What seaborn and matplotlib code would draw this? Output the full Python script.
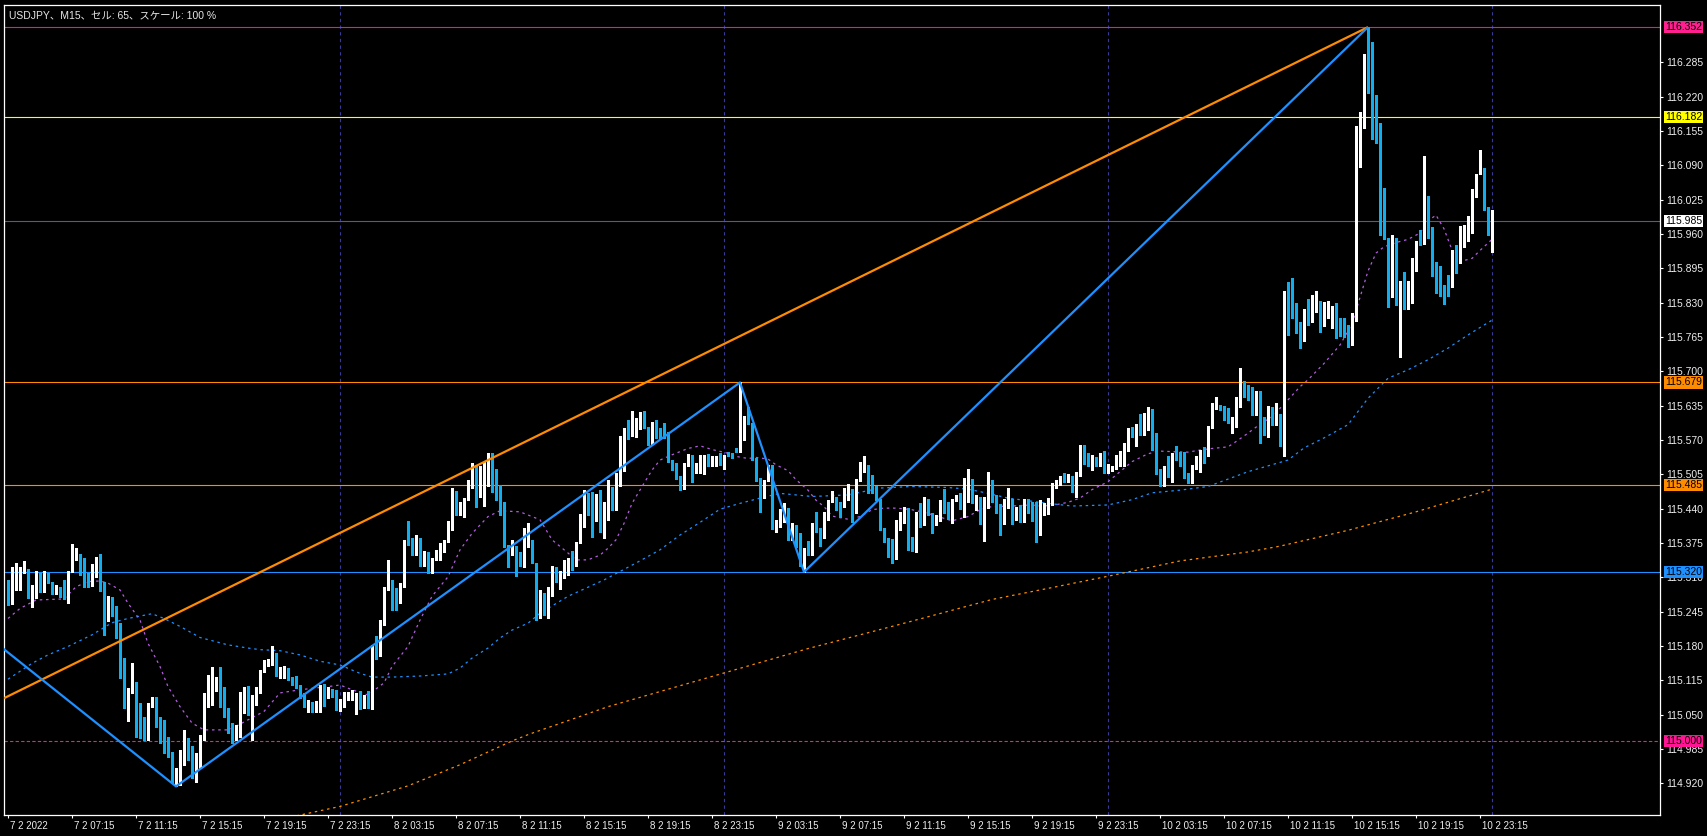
import numpy as np
import matplotlib
matplotlib.use("Agg")
import matplotlib.pyplot as plt
import matplotlib.transforms as mtransforms
import seaborn as sns

# ---------------- data (USDJPY M15, bar 0 = 7 Feb 03:15) ----------------
open_prices = [
    115.275, 115.260, 115.290, 115.294, 115.322, 115.324, 115.272, 115.294, 115.318, 115.289,
    115.314, 115.295, 115.280, 115.286, 115.278, 115.271, 115.320, 115.347, 115.354, 115.346,
    115.299, 115.294, 115.332, 115.344, 115.300, 115.228, 115.272, 115.256, 115.213, 115.119,
    115.062, 115.097, 115.111, 115.030, 115.029, 115.020, 115.070, 115.070, 115.032, 115.018,
    115.005, 114.970, 114.928, 114.948, 114.977, 114.999, 114.979, 114.955, 114.952, 115.008,
    115.078, 115.094, 115.100, 115.114, 115.078, 115.062, 115.022, 115.015, 115.031, 115.053,
    115.098, 115.049, 115.071, 115.097, 115.134, 115.144, 115.146, 115.165, 115.128, 115.135,
    115.138, 115.119, 115.120, 115.103, 115.084, 115.070, 115.073, 115.056, 115.056, 115.108,
    115.086, 115.099, 115.087, 115.058, 115.065, 115.081, 115.089, 115.088, 115.089, 115.064,
    115.075, 115.062, 115.195, 115.179, 115.222, 115.289, 115.303, 115.287, 115.285, 115.294,
    115.380, 115.378, 115.354, 115.384, 115.333, 115.357, 115.321, 115.345, 115.358, 115.359,
    115.378, 115.402, 115.474, 115.431, 115.434, 115.458, 115.485, 115.521, 115.464, 115.501,
    115.520, 115.529, 115.501, 115.483, 115.430, 115.369, 115.356, 115.369, 115.357, 115.332,
    115.373, 115.381, 115.337, 115.245, 115.256, 115.248, 115.292, 115.322, 115.302, 115.310,
    115.340, 115.342, 115.332, 115.375, 115.428, 115.465, 115.455, 115.422, 115.458, 115.427,
    115.434, 115.474, 115.468, 115.485, 115.542, 115.593, 115.583, 115.600, 115.611, 115.624,
    115.594, 115.564, 115.607, 115.590, 115.600, 115.584, 115.531, 115.526, 115.499, 115.481,
    115.523, 115.540, 115.518, 115.523, 115.523, 115.544, 115.523, 115.525, 115.542, 115.518,
    115.542, 115.542, 115.551, 115.550, 115.581, 115.615, 115.602, 115.535, 115.496, 115.462,
    115.494, 115.523, 115.401, 115.416, 115.436, 115.439, 115.396, 115.409, 115.373, 115.330,
    115.368, 115.354, 115.412, 115.401, 115.386, 115.420, 115.455, 115.461, 115.453, 115.444,
    115.470, 115.477, 115.432, 115.494, 115.510, 115.520, 115.496, 115.477, 115.458, 115.403,
    115.381, 115.359, 115.346, 115.401, 115.429, 115.430, 115.371, 115.359, 115.434, 115.411,
    115.453, 115.430, 115.411, 115.418, 115.455, 115.434, 115.430, 115.458, 115.464, 115.441,
    115.466, 115.474, 115.451, 115.462, 115.412, 115.451, 115.469, 115.458, 115.436, 115.411,
    115.442, 115.458, 115.420, 115.445, 115.417, 115.456, 115.434, 115.420, 115.407, 115.440,
    115.441, 115.457, 115.482, 115.485, 115.502, 115.493, 115.498, 115.482, 115.506, 115.556,
    115.537, 115.521, 115.535, 115.523, 115.542, 115.510, 115.513, 115.518, 115.523, 115.537,
    115.554, 115.589, 115.578, 115.599, 115.581, 115.605, 115.621, 115.573, 115.515, 115.502,
    115.513, 115.501, 115.544, 115.545, 115.540, 115.505, 115.501, 115.518, 115.537, 115.552,
    115.542, 115.594, 115.630, 115.636, 115.633, 115.624, 115.603, 115.613, 115.647, 115.681,
    115.672, 115.670, 115.619, 115.662, 115.598, 115.590, 115.624, 115.600, 115.619, 115.561,
    115.845, 115.847, 115.822, 115.788, 115.769, 115.818, 115.796, 115.831, 115.833, 115.785,
    115.815, 115.815, 115.824, 115.785, 115.782, 115.779, 115.752, 115.798, 116.121, 116.167,
    116.287, 116.280, 116.181, 116.171, 116.006, 115.952, 115.892, 115.952, 115.835, 115.843,
    115.819, 115.830, 115.895, 115.949, 115.943, 116.012, 115.974, 115.907, 115.883, 115.859,
    115.858, 115.859, 115.925, 115.908, 115.944, 115.974, 115.982, 116.041, 116.075, 116.086,
    116.006, 115.971,
]
high_prices = [
    115.305, 115.330, 115.338, 115.330, 115.340, 115.326, 115.295, 115.321, 115.318, 115.321,
    115.318, 115.302, 115.295, 115.292, 115.305, 115.322, 115.374, 115.365, 115.355, 115.346,
    115.318, 115.336, 115.348, 115.355, 115.302, 115.275, 115.272, 115.256, 115.223, 115.157,
    115.100, 115.147, 115.111, 115.071, 115.046, 115.071, 115.084, 115.084, 115.046, 115.040,
    115.008, 114.980, 114.948, 114.983, 115.021, 115.005, 114.990, 114.977, 115.012, 115.090,
    115.125, 115.141, 115.122, 115.141, 115.102, 115.062, 115.034, 115.031, 115.092, 115.103,
    115.104, 115.087, 115.103, 115.135, 115.153, 115.155, 115.179, 115.166, 115.140, 115.142,
    115.138, 115.121, 115.123, 115.106, 115.091, 115.077, 115.073, 115.075, 115.106, 115.108,
    115.103, 115.099, 115.096, 115.080, 115.092, 115.092, 115.096, 115.091, 115.094, 115.087,
    115.094, 115.182, 115.198, 115.229, 115.292, 115.343, 115.305, 115.289, 115.299, 115.381,
    115.417, 115.384, 115.390, 115.384, 115.359, 115.357, 115.346, 115.362, 115.375, 115.381,
    115.416, 115.479, 115.474, 115.453, 115.460, 115.494, 115.526, 115.523, 115.520, 115.529,
    115.545, 115.545, 115.515, 115.485, 115.453, 115.371, 115.381, 115.369, 115.357, 115.403,
    115.412, 115.381, 115.337, 115.286, 115.280, 115.292, 115.332, 115.330, 115.321, 115.342,
    115.346, 115.359, 115.376, 115.429, 115.475, 115.469, 115.472, 115.468, 115.475, 115.453,
    115.494, 115.481, 115.507, 115.578, 115.593, 115.608, 115.625, 115.611, 115.624, 115.625,
    115.595, 115.605, 115.607, 115.592, 115.603, 115.586, 115.532, 115.526, 115.502, 115.526,
    115.544, 115.542, 115.526, 115.542, 115.542, 115.544, 115.540, 115.540, 115.545, 115.542,
    115.548, 115.545, 115.554, 115.679, 115.615, 115.633, 115.602, 115.535, 115.498, 115.494,
    115.523, 115.523, 115.419, 115.439, 115.450, 115.441, 115.412, 115.409, 115.393, 115.365,
    115.378, 115.412, 115.434, 115.403, 115.433, 115.456, 115.474, 115.463, 115.453, 115.480,
    115.486, 115.478, 115.496, 115.529, 115.540, 115.523, 115.504, 115.483, 115.458, 115.403,
    115.384, 115.382, 115.419, 115.434, 115.444, 115.441, 115.386, 115.434, 115.450, 115.463,
    115.459, 115.432, 115.428, 115.456, 115.477, 115.453, 115.458, 115.466, 115.469, 115.499,
    115.515, 115.497, 115.466, 115.463, 115.462, 115.510, 115.494, 115.466, 115.449, 115.458,
    115.479, 115.458, 115.444, 115.447, 115.458, 115.458, 115.453, 115.453, 115.456, 115.450,
    115.460, 115.488, 115.494, 115.501, 115.508, 115.506, 115.501, 115.510, 115.561, 115.561,
    115.545, 115.542, 115.537, 115.545, 115.550, 115.525, 115.520, 115.542, 115.550, 115.565,
    115.592, 115.595, 115.601, 115.619, 115.622, 115.632, 115.628, 115.583, 115.515, 115.520,
    115.540, 115.546, 115.558, 115.548, 115.548, 115.508, 115.523, 115.539, 115.551, 115.556,
    115.597, 115.640, 115.652, 115.636, 115.634, 115.630, 115.613, 115.651, 115.706, 115.682,
    115.674, 115.671, 115.662, 115.662, 115.614, 115.634, 115.633, 115.640, 115.619, 115.853,
    115.870, 115.876, 115.829, 115.794, 115.818, 115.837, 115.845, 115.853, 115.833, 115.831,
    115.834, 115.823, 115.829, 115.802, 115.802, 115.788, 115.811, 116.164, 116.192, 116.302,
    116.352, 116.323, 116.224, 116.171, 116.047, 115.952, 115.958, 115.952, 115.872, 115.889,
    115.872, 115.915, 115.946, 115.968, 116.107, 116.033, 115.974, 115.907, 115.900, 115.864,
    115.883, 115.929, 115.940, 115.976, 115.977, 115.995, 116.046, 116.074, 116.119, 116.086,
    116.012, 116.006,
]
low_prices = [
    115.258, 115.260, 115.286, 115.285, 115.318, 115.271, 115.253, 115.270, 115.283, 115.283,
    115.299, 115.279, 115.278, 115.273, 115.269, 115.261, 115.320, 115.343, 115.314, 115.292,
    115.292, 115.294, 115.311, 115.284, 115.201, 115.228, 115.236, 115.195, 115.120, 115.062,
    115.037, 115.090, 115.008, 115.005, 115.002, 115.002, 115.065, 115.027, 114.997, 114.977,
    114.970, 114.920, 114.914, 114.917, 114.955, 114.964, 114.930, 114.923, 114.948, 115.002,
    115.065, 115.068, 115.094, 115.065, 115.046, 115.015, 114.997, 115.002, 115.008, 115.053,
    115.049, 115.002, 115.068, 115.090, 115.131, 115.142, 115.144, 115.123, 115.119, 115.119,
    115.115, 115.106, 115.100, 115.081, 115.064, 115.054, 115.054, 115.054, 115.054, 115.067,
    115.081, 115.084, 115.059, 115.056, 115.064, 115.078, 115.078, 115.051, 115.060, 115.062,
    115.062, 115.060, 115.155, 115.160, 115.220, 115.286, 115.248, 115.248, 115.261, 115.292,
    115.371, 115.352, 115.352, 115.332, 115.332, 115.319, 115.319, 115.343, 115.343, 115.357,
    115.376, 115.400, 115.428, 115.428, 115.424, 115.457, 115.479, 115.443, 115.463, 115.445,
    115.482, 115.472, 115.457, 115.428, 115.368, 115.330, 115.352, 115.313, 115.331, 115.330,
    115.368, 115.337, 115.229, 115.233, 115.239, 115.233, 115.274, 115.302, 115.287, 115.309,
    115.315, 115.324, 115.331, 115.375, 115.406, 115.428, 115.387, 115.417, 115.395, 115.384,
    115.419, 115.438, 115.438, 115.482, 115.512, 115.571, 115.577, 115.575, 115.590, 115.592,
    115.561, 115.563, 115.573, 115.571, 115.573, 115.529, 115.513, 115.496, 115.476, 115.477,
    115.520, 115.491, 115.507, 115.508, 115.506, 115.520, 115.521, 115.520, 115.523, 115.515,
    115.539, 115.536, 115.548, 115.548, 115.570, 115.601, 115.532, 115.493, 115.434, 115.460,
    115.493, 115.402, 115.395, 115.406, 115.415, 115.380, 115.381, 115.368, 115.332, 115.320,
    115.352, 115.352, 115.396, 115.370, 115.384, 115.419, 115.453, 115.437, 115.425, 115.443,
    115.457, 115.414, 115.432, 115.493, 115.510, 115.469, 115.469, 115.457, 115.400, 115.376,
    115.349, 115.338, 115.344, 115.399, 115.412, 115.362, 115.359, 115.357, 115.406, 115.409,
    115.428, 115.393, 115.409, 115.417, 115.432, 115.420, 115.412, 115.455, 115.439, 115.425,
    115.453, 115.450, 115.437, 115.411, 115.378, 115.441, 115.453, 115.432, 115.390, 115.411,
    115.442, 115.411, 115.419, 115.415, 115.415, 115.432, 115.417, 115.376, 115.390, 115.428,
    115.430, 115.447, 115.480, 115.485, 115.491, 115.491, 115.472, 115.463, 115.501, 115.525,
    115.521, 115.513, 115.521, 115.520, 115.508, 115.508, 115.512, 115.516, 115.520, 115.520,
    115.550, 115.576, 115.559, 115.580, 115.580, 115.589, 115.552, 115.506, 115.483, 115.482,
    115.500, 115.491, 115.532, 115.520, 115.499, 115.488, 115.488, 115.516, 115.510, 115.526,
    115.540, 115.592, 115.628, 115.627, 115.607, 115.602, 115.583, 115.594, 115.632, 115.651,
    115.646, 115.617, 115.617, 115.564, 115.580, 115.576, 115.599, 115.598, 115.558, 115.540,
    115.769, 115.801, 115.772, 115.744, 115.757, 115.788, 115.794, 115.813, 115.774, 115.785,
    115.801, 115.782, 115.763, 115.767, 115.766, 115.746, 115.750, 115.796, 116.088, 116.160,
    116.228, 116.140, 116.133, 115.959, 115.951, 115.822, 115.841, 115.826, 115.727, 115.819,
    115.819, 115.829, 115.891, 115.940, 115.942, 115.952, 115.880, 115.849, 115.842, 115.827,
    115.842, 115.859, 115.887, 115.905, 115.936, 115.946, 115.963, 116.030, 116.074, 116.006,
    115.959, 115.927,
]
close_prices = [
    115.258, 115.292, 115.294, 115.324, 115.324, 115.271, 115.295, 115.319, 115.289, 115.314,
    115.300, 115.280, 115.285, 115.275, 115.270, 115.322, 115.349, 115.354, 115.346, 115.294,
    115.294, 115.335, 115.345, 115.300, 115.228, 115.275, 115.253, 115.213, 115.120, 115.062,
    115.100, 115.108, 115.030, 115.021, 115.020, 115.071, 115.073, 115.029, 115.016, 115.005,
    114.970, 114.926, 114.948, 114.983, 114.999, 114.977, 114.964, 114.966, 115.012, 115.078,
    115.092, 115.103, 115.114, 115.078, 115.064, 115.018, 115.015, 115.031, 115.057, 115.098,
    115.053, 115.076, 115.098, 115.135, 115.148, 115.152, 115.166, 115.125, 115.135, 115.141,
    115.115, 115.115, 115.103, 115.083, 115.067, 115.076, 115.056, 115.073, 115.106, 115.084,
    115.096, 115.086, 115.060, 115.067, 115.083, 115.089, 115.094, 115.091, 115.062, 115.075,
    115.064, 115.182, 115.179, 115.222, 115.292, 115.301, 115.267, 115.266, 115.294, 115.380,
    115.373, 115.354, 115.384, 115.333, 115.357, 115.321, 115.346, 115.360, 115.360, 115.378,
    115.403, 115.474, 115.430, 115.436, 115.460, 115.485, 115.521, 115.464, 115.501, 115.527,
    115.529, 115.485, 115.482, 115.430, 115.368, 115.352, 115.369, 115.356, 115.332, 115.378,
    115.393, 115.337, 115.237, 115.256, 115.247, 115.292, 115.321, 115.302, 115.311, 115.342,
    115.342, 115.332, 115.375, 115.429, 115.463, 115.455, 115.423, 115.458, 115.425, 115.434,
    115.474, 115.447, 115.488, 115.542, 115.592, 115.586, 115.624, 115.611, 115.624, 115.594,
    115.563, 115.605, 115.589, 115.573, 115.584, 115.529, 115.526, 115.498, 115.481, 115.526,
    115.540, 115.518, 115.523, 115.526, 115.542, 115.520, 115.539, 115.538, 115.537, 115.540,
    115.540, 115.539, 115.550, 115.581, 115.615, 115.602, 115.535, 115.494, 115.462, 115.494,
    115.523, 115.403, 115.416, 115.437, 115.442, 115.395, 115.411, 115.371, 115.349, 115.365,
    115.354, 115.412, 115.398, 115.386, 115.425, 115.456, 115.463, 115.455, 115.444, 115.472,
    115.477, 115.434, 115.496, 115.511, 115.520, 115.493, 115.477, 115.458, 115.400, 115.378,
    115.356, 115.346, 115.402, 115.431, 115.431, 115.368, 115.361, 115.434, 115.411, 115.453,
    115.430, 115.411, 115.419, 115.456, 115.434, 115.430, 115.456, 115.464, 115.441, 115.466,
    115.476, 115.453, 115.462, 115.412, 115.462, 115.470, 115.455, 115.434, 115.411, 115.456,
    115.456, 115.420, 115.443, 115.417, 115.456, 115.433, 115.419, 115.407, 115.441, 115.444,
    115.458, 115.482, 115.489, 115.501, 115.493, 115.503, 115.481, 115.510, 115.556, 115.532,
    115.523, 115.537, 115.523, 115.544, 115.510, 115.516, 115.520, 115.527, 115.540, 115.556,
    115.590, 115.578, 115.599, 115.581, 115.607, 115.621, 115.573, 115.513, 115.502, 115.511,
    115.501, 115.544, 115.542, 115.539, 115.502, 115.501, 115.520, 115.539, 115.546, 115.540,
    115.595, 115.633, 115.638, 115.630, 115.621, 115.602, 115.613, 115.649, 115.681, 115.672,
    115.666, 115.619, 115.662, 115.595, 115.590, 115.622, 115.599, 115.619, 115.561, 115.838,
    115.830, 115.822, 115.786, 115.769, 115.818, 115.796, 115.832, 115.833, 115.785, 115.817,
    115.817, 115.823, 115.785, 115.779, 115.777, 115.753, 115.798, 116.121, 116.169, 116.285,
    116.277, 116.178, 116.169, 116.006, 115.951, 115.892, 115.952, 115.835, 115.845, 115.819,
    115.832, 115.895, 115.946, 115.940, 116.015, 115.974, 115.904, 115.883, 115.858, 115.853,
    115.853, 115.925, 115.906, 115.946, 115.977, 115.985, 116.046, 116.074, 116.083, 116.006,
    115.959, 115.985,
]

# moving averages, sampled (bar index, price)
ma_fast_bars = [0, 3, 7, 14, 17, 20, 23, 25, 28, 30,
                33, 35, 38, 40, 43, 46, 49, 55, 56, 60,
                64, 68, 73, 80, 83, 86, 90, 94, 96, 100,
                103, 106, 110, 113, 116, 120, 123, 128, 133, 136,
                140, 142, 145, 148, 150, 152, 154, 156, 159, 161,
                163, 166, 170, 173, 176, 180, 182, 185, 187, 190,
                192, 195, 197, 200, 202, 204, 206, 210, 213, 216,
                219, 222, 226, 230, 233, 236, 240, 243, 246, 251,
                256, 258, 261, 265, 268, 271, 275, 278, 281, 285,
                288, 291, 295, 298, 301, 305, 307, 310, 313, 316,
                320, 323, 325, 329, 333, 336, 338, 340, 342, 344,
                347, 350, 353, 355, 357, 359, 361, 363, 366, 368,
                371]
ma_fast_vals = [115.232, 115.251, 115.267, 115.269, 115.292, 115.302, 115.303, 115.299, 115.286, 115.261,
                115.229, 115.185, 115.141, 115.103, 115.065, 115.034, 115.021, 115.021, 115.024, 115.040,
                115.056, 115.091, 115.097, 115.103, 115.106, 115.097, 115.087, 115.110, 115.141, 115.179,
                115.229, 115.274, 115.311, 115.362, 115.393, 115.425, 115.436, 115.434, 115.419, 115.381,
                115.356, 115.343, 115.343, 115.352, 115.365, 115.381, 115.412, 115.450, 115.488, 115.513,
                115.532, 115.542, 115.554, 115.559, 115.552, 115.545, 115.539, 115.535, 115.537, 115.534,
                115.523, 115.512, 115.495, 115.475, 115.456, 115.444, 115.426, 115.420, 115.425, 115.438,
                115.441, 115.441, 115.438, 115.431, 115.424, 115.417, 115.425, 115.438, 115.444, 115.445,
                115.447, 115.445, 115.446, 115.452, 115.460, 115.476, 115.491, 115.510, 115.529, 115.544,
                115.549, 115.548, 115.547, 115.551, 115.554, 115.557, 115.567, 115.583, 115.600, 115.614,
                115.646, 115.671, 115.684, 115.715, 115.750, 115.790, 115.840, 115.890, 115.924, 115.936,
                115.944, 115.950, 115.962, 115.985, 115.996, 115.970, 115.930, 115.908, 115.914, 115.929,
                115.950]
ma_mid_bars = [0, 6, 10, 15, 21, 26, 30, 36, 39, 43,
               48, 55, 60, 63, 68, 73, 78, 83, 88, 91,
               96, 103, 110, 113, 116, 120, 123, 126, 130, 133,
               140, 149, 157, 163, 168, 173, 178, 183, 188, 193,
               201, 210, 218, 226, 235, 240, 245, 250, 255, 260,
               266, 275, 281, 286, 293, 300, 305, 310, 315, 320,
               324, 329, 335, 340, 345, 350, 355, 360, 365, 371]
ma_mid_vals = [115.117, 115.147, 115.163, 115.179, 115.201, 115.224, 115.232, 115.241, 115.232, 115.217,
               115.196, 115.182, 115.176, 115.173, 115.171, 115.163, 115.151, 115.144, 115.128, 115.121,
               115.121, 115.123, 115.127, 115.138, 115.157, 115.176, 115.195, 115.210, 115.223, 115.242,
               115.274, 115.305, 115.337, 115.362, 115.390, 115.414, 115.439, 115.450, 115.460, 115.469,
               115.463, 115.466, 115.479, 115.482, 115.480, 115.477, 115.469, 115.460, 115.455, 115.450,
               115.445, 115.447, 115.457, 115.470, 115.475, 115.482, 115.496, 115.510, 115.521, 115.532,
               115.555, 115.574, 115.599, 115.649, 115.687, 115.703, 115.722, 115.744, 115.769, 115.797]
ma_slow_bars = [60, 72, 83, 100, 113, 126, 130, 150, 175, 200,
                225, 246, 252, 260, 275, 293, 310, 318, 335, 352, 371]
ma_slow_vals = [114.835, 114.858, 114.876, 114.915, 114.955, 115.000, 115.012, 115.065, 115.120, 115.175,
                115.225, 115.268, 115.277, 115.289, 115.312, 115.341, 115.358, 115.369, 115.399, 115.434, 115.477]

# drawn objects
zigzag_bars = [-10, 42, 183, 199, 340]
zigzag_prices = [115.228, 114.914, 115.679, 115.320, 116.352]
trend_bars = [-1, 340]
trend_prices = [115.081, 116.352]
level_prices = [116.352, 116.182, 115.985, 115.679, 115.485, 115.320, 115.000]
day_separator_bars = [83, 179, 275, 371]

ytick_values = [114.920, 114.985, 115.050, 115.115, 115.180, 115.245, 115.310, 115.375,
                115.440, 115.505, 115.570, 115.635, 115.700, 115.765, 115.830, 115.895,
                115.960, 116.025, 116.090, 116.155, 116.220, 116.285]
xtick_bars = [0, 16, 32, 48, 64, 80, 96, 112, 128, 144, 160, 176,
              192, 208, 224, 240, 256, 272, 288, 304, 320, 336, 352, 368]
xtick_labels = ["7 2 2022", "7 2 07:15", "7 2 11:15", "7 2 15:15", "7 2 19:15", "7 2 23:15",
                "8 2 03:15", "8 2 07:15", "8 2 11:15", "8 2 15:15", "8 2 19:15", "8 2 23:15",
                "9 2 03:15", "9 2 07:15", "9 2 11:15", "9 2 15:15", "9 2 19:15", "9 2 23:15",
                "10 2 03:15", "10 2 07:15", "10 2 11:15", "10 2 15:15", "10 2 19:15", "10 2 23:15"]
header_text = "USDJPY、M15、セル: 65、スケール: 100 %"

# ---------------- styling ----------------
sns.set_theme(style="dark")
plt.rcParams['font.family'] = ['Liberation Sans', 'Noto Sans CJK JP', 'DejaVu Sans']

UP = "#FFFFFF"
DOWN = "#10AEEF"
level_line_colors = ["#E0207A", "#FFFF00", "#5A5A80", "#FF8C00", "#FF8C00", "#1E90FF", "#FF1493"]
level_box_colors = ["#FF2090", "#FFFF00", "#FFFFFF", "#FF8C00", "#FF8C00", "#1E90FF", "#FF1493"]
level_styles = ["-", "-", "-", "-", "-", "-", (0, (3, 2))]

W, H = 1707, 836
fig = plt.figure(figsize=(W / 100, H / 100), dpi=100, facecolor="black")
ax = fig.add_axes([4 / W, 1 - 815 / H, 1656 / W, 810 / H])
ax.set_facecolor("black")
ax.grid(False)

# day separators
for b in day_separator_bars:
    ax.axvline(b, color="#3A3A96", lw=0.8, linestyle=(0, (3, 3)), zorder=1)

# horizontal levels
for p, col, ls in zip(level_prices, level_line_colors, level_styles):
    ax.axhline(p, color=col, lw=0.8, linestyle=ls, zorder=2)

# moving averages (seaborn)
sns.lineplot(x=ma_slow_bars, y=ma_slow_vals, ax=ax, color="#FF8C00", linewidth=0.9,
             linestyle=(0, (2, 3)), zorder=2.5)
sns.lineplot(x=ma_mid_bars, y=ma_mid_vals, ax=ax, color="#1E90FF", linewidth=0.9,
             linestyle=(0, (2, 3)), zorder=2.5)
sns.lineplot(x=ma_fast_bars, y=ma_fast_vals, ax=ax, color="#B45CE0", linewidth=0.9,
             linestyle=(0, (2, 3)), zorder=2.5)

# candles
o = np.array(open_prices)
h = np.array(high_prices)
l = np.array(low_prices)
c = np.array(close_prices)
bars = np.arange(len(c))
up = c >= o
colors = np.where(up, UP, DOWN)
body_lo = np.minimum(o, c)
body_h = np.maximum(np.abs(c - o), 0.0019)
ax.vlines(bars, l, h, colors=colors, linewidth=0.75, antialiased=False, zorder=3)
ax.bar(bars, body_h, bottom=body_lo, width=0.72, color=colors, linewidth=0,
       antialiased=False, zorder=4)

# trend line & zigzag
ax.plot(trend_bars, trend_prices, color="#FF8C00", lw=1.6, zorder=5, solid_capstyle="butt")
ax.plot(zigzag_bars, zigzag_prices, color="#1E90FF", lw=1.6, zorder=5, solid_capstyle="butt")

ax.set_xlim(-1, 413)
ax.set_ylim(114.8598, 116.3939)
ax.set_xlabel("")
ax.set_ylabel("")

# axes / ticks
for s in ax.spines.values():
    s.set_color("white")
    s.set_linewidth(0.9)
    s.set_visible(True)

ax.yaxis.tick_right()
ax.set_yticks(ytick_values)
ax.set_yticklabels([f"{v:.3f}" for v in ytick_values])
ax.tick_params(axis="y", which="both", direction="out", length=2.5, width=0.8,
               color="white", labelcolor="#EDEDED", labelsize=7.5, pad=2,
               right=True, left=False, labelright=True, labelleft=False)
ax.set_xticks(xtick_bars)
ax.set_xticklabels(xtick_labels, ha="left")
ax.tick_params(axis="x", direction="out", length=2.5, width=0.8, color="white",
               labelcolor="#EDEDED", labelsize=7, pad=1.5, bottom=True)
offset = mtransforms.ScaledTranslation(1.5 / 100, 0, fig.dpi_scale_trans)
for lbl in ax.get_xticklabels():
    lbl.set_transform(lbl.get_transform() + offset)

# price boxes on the right
trans = mtransforms.blended_transform_factory(ax.transAxes, ax.transData)
for p, bg in zip(level_prices, level_box_colors):
    ax.text(1.0 + 5 / 1656, p, f"{p:.3f}", transform=trans, ha="left", va="center",
            fontsize=7.5, color="black", clip_on=False, zorder=10,
            bbox=dict(boxstyle="square,pad=0.12", fc=bg, ec="none"))

# header
fig.text(9 / W, 1 - 15.5 / H, header_text, color="#E6E6E6", fontsize=7.5,
         ha="left", va="center", zorder=20)

fig.savefig("out.png", dpi=100, facecolor="black")
